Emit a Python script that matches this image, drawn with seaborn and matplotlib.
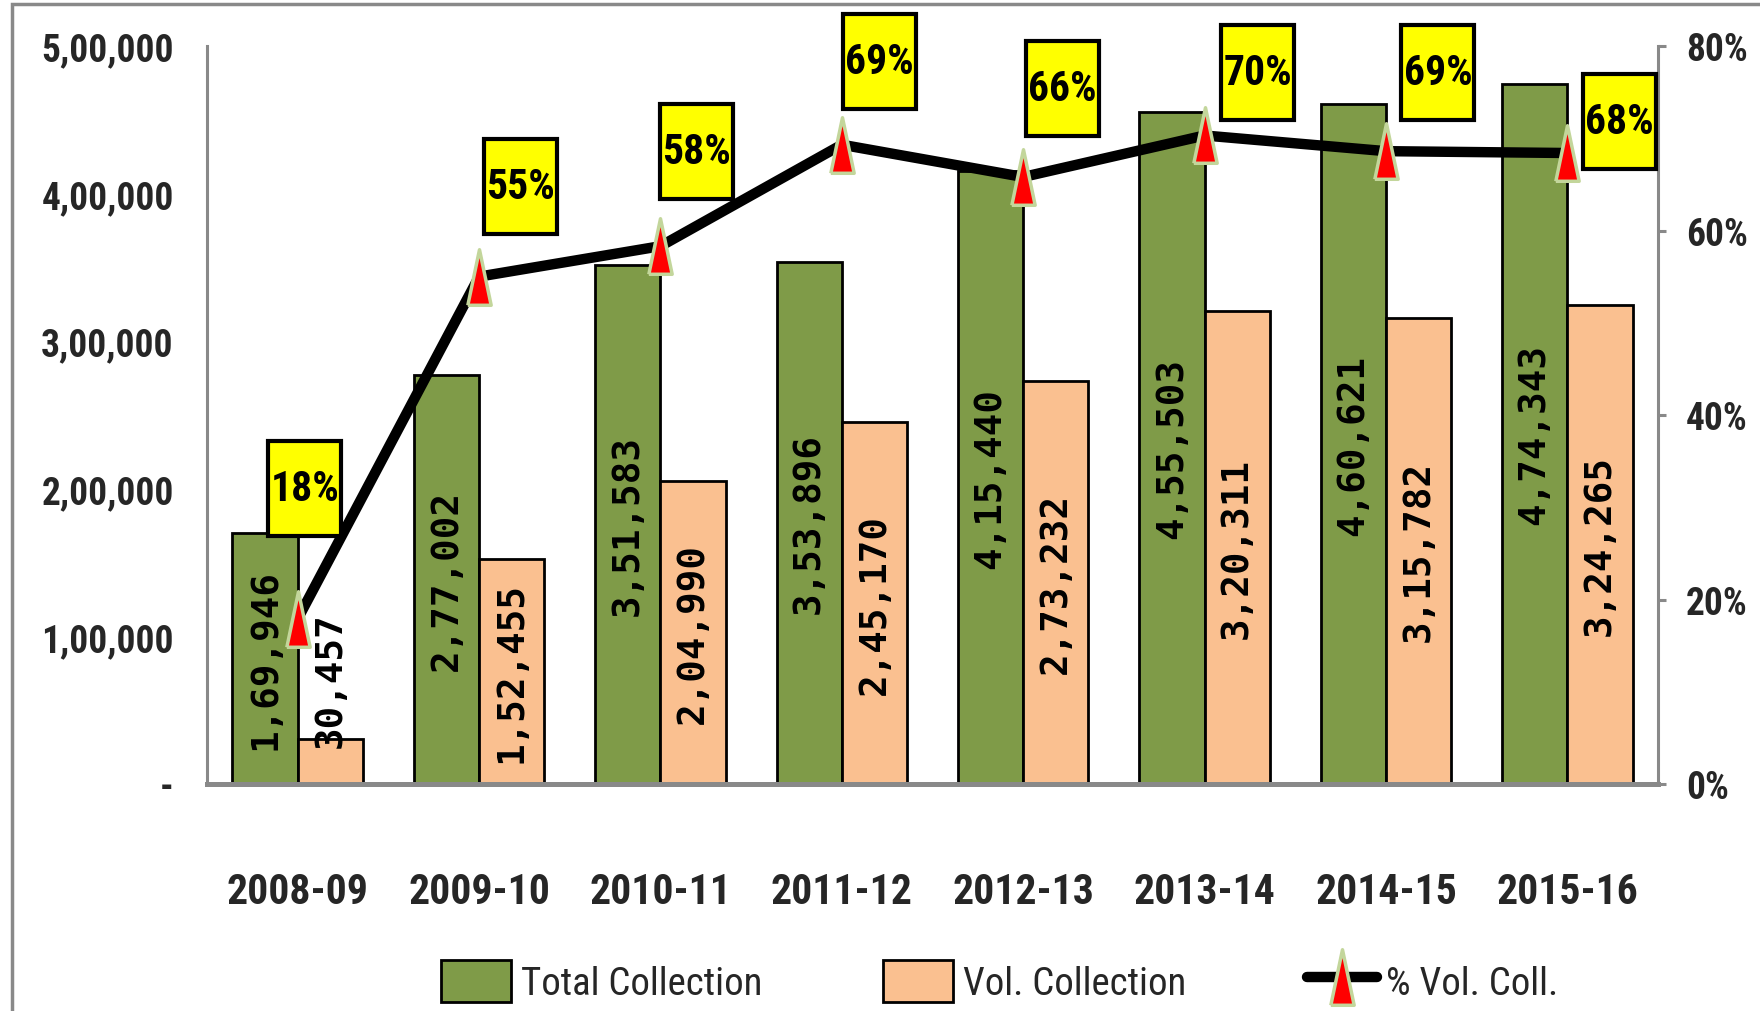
import numpy as np
import pandas as pd
import matplotlib
matplotlib.use("Agg")
import matplotlib.pyplot as plt
import seaborn as sns
from matplotlib import font_manager
from matplotlib.path import Path
from matplotlib.patches import Patch, Rectangle
from matplotlib.lines import Line2D

# ---------------- data ----------------
years = ["2008-09", "2009-10", "2010-11", "2011-12", "2012-13", "2013-14", "2014-15", "2015-16"]
total_collection = [169946, 277002, 351583, 353896, 415440, 455503, 460621, 474343]
vol_collection = [30457, 152455, 204990, 245170, 273232, 320311, 315782, 324265]
pct_vol = [0.179, 0.550, 0.583, 0.693, 0.658, 0.703, 0.686, 0.684]
pct_labels = ["18%", "55%", "58%", "69%", "66%", "70%", "69%", "68%"]
left_ticks = [0, 100000, 200000, 300000, 400000, 500000]
left_tick_labels = ["-", "1,00,000", "2,00,000", "3,00,000", "4,00,000", "5,00,000"]
right_ticks = [0, 0.2, 0.4, 0.6, 0.8]
right_tick_labels = ["0%", "20%", "40%", "60%", "80%"]
series_names = ["Total Collection", "Vol. Collection", "% Vol. Coll."]

# label box offsets (pixels) from marker
box_dx = [7, 41, 36, 38, 39, 53, 52, 52]
box_dy = [130, 90, 95, 83, 88, 63, 79, 32]

GREEN = "#7F9B48"
ORANGE = "#FAC090"
GRAY = "#898989"
EDGE_GREEN = "#C3D69B"

sns.set_theme(style="white")
names = {f.name for f in font_manager.fontManager.ttflist}
cond = None
for cand in ["Liberation Sans Narrow", "Roboto Condensed", "Open Sans Condensed", "DejaVu Sans Condensed"]:
    if cand in names:
        cond = cand
        break
if cond is None:
    cond = "DejaVu Sans"
plt.rcParams["font.family"] = [cond, "DejaVu Sans"]


def indian(v):
    s = str(int(v))
    if len(s) <= 3:
        return s
    last3 = s[-3:]
    rest = s[:-3]
    groups = []
    while len(rest) > 2:
        groups.insert(0, rest[-2:])
        rest = rest[:-2]
    if rest:
        groups.insert(0, rest)
    return ",".join(groups) + "," + last3


class FixedBox:
    def __init__(self, w, h):
        self.w = w
        self.h = h

    def __call__(self, x0, y0, width, height, mutation_size):
        cx = x0 + width / 2.0
        cy = y0 + height / 2.0
        a = cx - self.w / 2.0
        b = cy - self.h / 2.0
        return Path([(a, b), (a + self.w, b), (a + self.w, b + self.h), (a, b + self.h), (a, b)], closed=True)


W, H = 1760, 1012
fig = plt.figure(figsize=(W / 100, H / 100), dpi=100)
fig.patch.set_facecolor("white")
ax_l, ax_r, ax_t, ax_b = 207, 1658, 47, 785
ax = fig.add_axes([ax_l / W, 1 - ax_b / H, (ax_r - ax_l) / W, (ax_b - ax_t) / H])

df = pd.DataFrame({
    "Year": years * 2,
    "Value": total_collection + vol_collection,
    "Series": [series_names[0]] * len(years) + [series_names[1]] * len(years),
})

sns.barplot(data=df, x="Year", y="Value", hue="Series", hue_order=series_names[:2],
            palette=[GREEN, ORANGE], width=0.72, saturation=1, edgecolor="black",
            linewidth=2, legend=False, ax=ax, zorder=2)

ax.set_xlim(-0.5, len(years) - 0.5)
ax.set_ylim(0, 500000)
ax.set_xlabel("")
ax.set_ylabel("")
ax.set_yticks(left_ticks)
ax.set_yticklabels(left_tick_labels, fontsize=27, fontweight="bold")
ax.tick_params(axis="y", length=0, pad=24)
ax.set_xticks(range(len(years)))
ax.set_xticklabels(years, fontsize=30, fontweight="bold")
ax.tick_params(axis="x", length=0, pad=63)
for s in ["top", "right"]:
    ax.spines[s].set_visible(False)
ax.spines["left"].set_color(GRAY)
ax.spines["left"].set_linewidth(2.2)
ax.spines["bottom"].set_color(GRAY)
ax.spines["bottom"].set_linewidth(3.6)
ax.grid(False)

# bar value labels
lab_font = dict(family="DejaVu Sans Mono", fontweight="bold", fontsize=27, rotation=90,
                ha="center", va="center", color="black", zorder=5)
for i, v in enumerate(total_collection):
    ax.text(i - 0.18, max(v / 2, 71000), indian(v), **lab_font)
for i, v in enumerate(vol_collection):
    ax.text(i + 0.18, max(v / 2, 71000), indian(v), **lab_font)

# line on secondary axis
ax2 = ax.twinx()
tri = [(-0.42, -1.0), (0.42, -1.0), (0.0, 1.0), (-0.42, -1.0)]
sns.lineplot(x=np.arange(len(years)), y=pct_vol, ax=ax2, color="black", linewidth=7.5,
             marker=tri, markersize=40, markerfacecolor="red", markeredgecolor=EDGE_GREEN,
             markeredgewidth=2.5, sort=False, legend=False, zorder=6)
ax2.set_ylim(0, 0.8)
ax2.set_xlim(-0.5, len(years) - 0.5)
ax2.set_yticks(right_ticks)
ax2.set_yticklabels(right_tick_labels, fontsize=27, fontweight="bold")
ax2.tick_params(axis="y", length=6, width=2.2, color=GRAY, pad=14)
for s in ["top", "left", "bottom"]:
    ax2.spines[s].set_visible(False)
ax2.spines["right"].set_color(GRAY)
ax2.spines["right"].set_linewidth(2.2)
ax2.grid(False)
ax2.set_ylabel("")

for i, (p, lab) in enumerate(zip(pct_vol, pct_labels)):
    ax2.annotate(lab, xy=(i, p), xytext=(box_dx[i], box_dy[i]), textcoords="offset pixels",
                 ha="center", va="center", fontsize=30, fontweight="bold", color="black",
                 bbox=dict(boxstyle=FixedBox(73, 95), fc="#FFFF00", ec="black", lw=3),
                 zorder=7, annotation_clip=False)

# legend
handles = [
    Patch(facecolor=GREEN, edgecolor="black", linewidth=2),
    Patch(facecolor=ORANGE, edgecolor="black", linewidth=2),
    Line2D([0], [0], color="black", linewidth=7.5, marker=tri, markersize=40,
           markerfacecolor="red", markeredgecolor=EDGE_GREEN, markeredgewidth=2.5),
]
fig.legend(handles, series_names, loc="center", bbox_to_anchor=(1000 / W, 1 - 982 / H),
           ncol=3, frameon=False, fontsize=28, handlelength=1.8, handleheight=1.3,
           handletextpad=0.25, columnspacing=3.1)

# outer border
fig.patches.append(Rectangle((12 / W, -0.05), 1.1, 1 - 5 / H + 0.05, transform=fig.transFigure,
                             fill=False, edgecolor=GRAY, linewidth=2.5, clip_on=False))

fig.savefig("out.png", dpi=100)
